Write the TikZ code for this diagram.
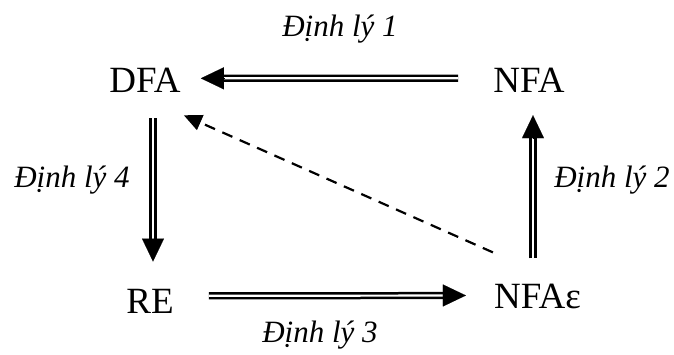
\documentclass[tikz,border=0pt]{standalone}
\usepackage{fontspec}
\setmainfont{Liberation Serif}
\usetikzlibrary{arrows.meta, calc}

\begin{document}
\begin{tikzpicture}[x=1pt, y=-1pt,
    st/.style={inner sep=0pt, anchor=base, font=\fontsize{37}{40}\selectfont},
    lbl/.style={inner sep=0pt, anchor=base, font=\fontsize{31}{33}\selectfont\itshape},
    dbl/.style={line width=2.5pt, double distance=2.2pt},
    tip/.style={-{Triangle[length=23pt, width=22pt]}, line width=0.1pt},
    dsh/.style={line width=2.2pt, dash pattern=on 11pt off 8pt, -{Triangle[length=18pt, width=16pt]}}]
  \useasboundingbox (0,0) rectangle (674,354);
  % the four automata
  \node[st] (dfa) at (145,92) {DFA};
  \node[st] (nfa) at (529,92) {NFA};
  \node[st] (re) at (150,313) {RE};
  \node[st] (nfae) at (537.5,308) {NFAε};
  % theorems
  \draw[dbl, shorten <=35pt, shorten >=40pt] ([yshift=1.5pt]nfa.west) -- ([yshift=1.5pt]dfa.east);
  \draw[tip] ([yshift=1.5pt,xshift=43pt]dfa.east) -- ([yshift=1.5pt,xshift=20pt]dfa.east);
  \draw[dbl, shorten <=26pt, shorten >=45pt] ([xshift=8pt]dfa.south) -- ([xshift=3pt]re.north);
  \draw[tip] ([xshift=3pt,yshift=50pt]re.north) -- ([xshift=3pt,yshift=27pt]re.north);
  \draw[dbl, shorten <=35pt, shorten >=45pt] ([yshift=5pt]re.east) -- ([yshift=0.5pt]nfae.west);
  \draw[tip] ([yshift=0.5pt,xshift=-51pt]nfae.west) -- ([yshift=0.5pt,xshift=-28pt]nfae.west);
  \draw[dbl, shorten <=25pt, shorten >=40pt] ([xshift=-4.5pt]nfae.north) -- ([xshift=4pt]nfa.south);
  \draw[tip] ([xshift=4pt,yshift=-46pt]nfa.south) -- ([xshift=4pt,yshift=-23pt]nfa.south);
  \draw[dsh] ([xshift=-1pt,yshift=31pt]nfae.north west) -- ([xshift=3pt,yshift=-23pt]dfa.south east);
  % labels
  \node[lbl] (t1) at (340,36) {Định lý 1};
  \node[lbl] (t2) at (612,187) {Định lý 2};
  \node[lbl] (t3) at (320,342) {Định lý 3};
  \node[lbl] (t4) at (72,187) {Định lý 4};
\end{tikzpicture}
\end{document}
